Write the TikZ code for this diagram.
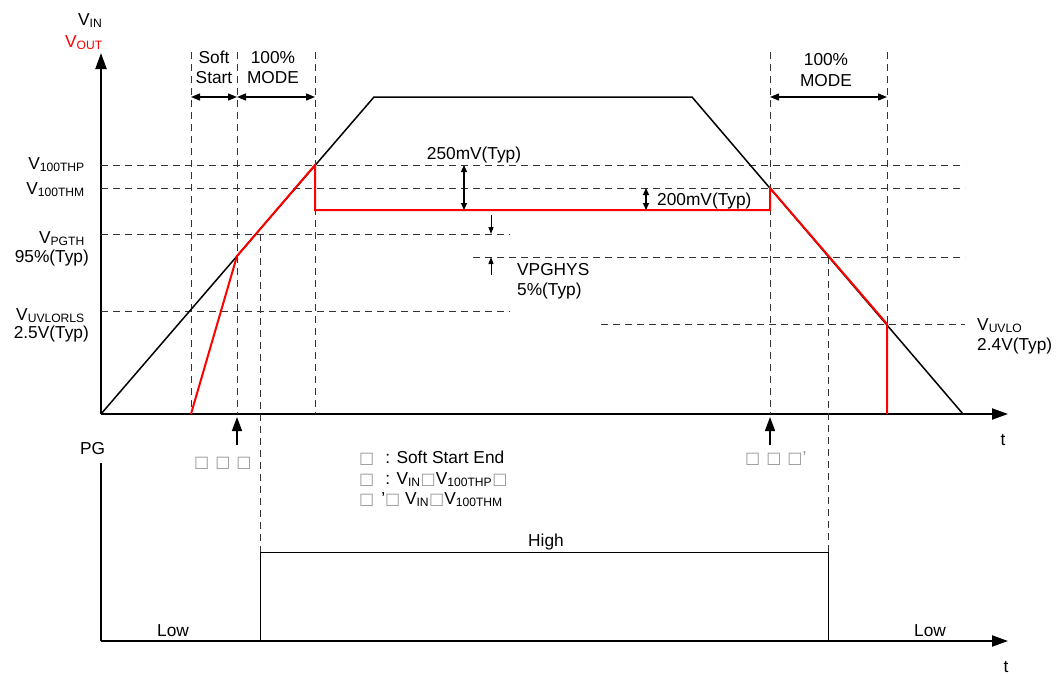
\documentclass[tikz,border=0pt]{standalone}
\usepackage{fontspec}
\setmainfont{Liberation Sans}
\newfontfamily\symfont{DejaVu Sans}
\usetikzlibrary{arrows.meta,positioning}
\definecolor{vred}{RGB}{255,0,0}
\definecolor{tofugray}{RGB}{150,150,150}
\newcommand{\tofu}{{\symfont\fontsize{16}{16}\selectfont\textcolor{tofugray}{□}}}

\tikzset{
  lbl/.style={inner sep=0pt, font=\fontsize{17.3}{20}\selectfont},
  axis/.style={line width=2pt, -{Triangle[length=16pt,width=11pt]}},
  guide/.style={dash pattern=on 7pt off 5pt, line width=1pt, black!80},
  vin/.style={line width=1.5pt},
  vout/.style={line width=2pt, vred},
  span/.style={line width=1.3pt, {Triangle[length=9pt,width=7pt]}-{Triangle[length=9pt,width=7pt]}},
  sspan/.style={line width=1.3pt, {Triangle[length=7pt,width=6pt]}-{Triangle[length=7pt,width=6pt]}},
  tick/.style={line width=1pt, -{Triangle[length=7pt,width=5pt]}},
  pointer/.style={line width=1.5pt, -{Triangle[length=14pt,width=10pt]}},
}

\begin{document}
\begin{tikzpicture}[x=1pt,y=-1pt]
\useasboundingbox (0,0) rectangle (1057,675);

% axes
\coordinate (o) at (101,414);
\coordinate (ytop) at (101,53);
\coordinate (xend) at (1008,414);
\coordinate (po) at (101,641);
\coordinate (ptop) at (101,463);
\coordinate (pend) at (1008,641);
\draw[axis] (o) -- (ytop);
\draw[axis] (o) -- (xend);
\draw[line width=2pt] (po) -- (ptop);
\draw[axis] (po) -- (pend);

% threshold lines
\draw[guide] (101,165) -- (965,165);
\draw[guide] (101,188) -- (965,188);
\draw[guide] (101,234) -- (510,234);
\draw[guide] (473,257) -- (965,257);
\draw[guide] (101,311) -- (510,311);
\draw[guide] (601,324) -- (965,324);

% time marks
\foreach \x in {191,237,315,770,887}
  \draw[guide] (\x,52) -- (\x,414);
\draw[guide] (260,234) -- (260,552);
\draw[guide] (828,257) -- (828,552);

% VIN
\coordinate (rise) at (374,97);
\coordinate (fall) at (692,97);
\coordinate (off) at (963,414);
\draw[vin] (o) -- (rise) -- (fall) -- (off);

% VOUT
\coordinate (ss0) at (191,414);
\coordinate (ss1) at (237,256);
\coordinate (thp) at (315,165);
\coordinate (reg0) at (315,210);
\coordinate (reg1) at (770,210);
\coordinate (thm) at (770,188);
\coordinate (uvlo) at (887,324);
\coordinate (uvlo0) at (887,414);
\draw[vout] (ss0) -- (ss1) -- (thp) -- (reg0) -- (reg1) -- (thm) -- (uvlo) -- (uvlo0);

% spans
\draw[span] (191,97) -- (237,97);
\draw[span] (237,97) -- (315,97);
\draw[span] (770,97) -- (887,97);
\draw[sspan] (464,165) -- (464,210);
\draw[sspan] (646,188) -- (646,210);
\draw[tick] (491,215) -- (491,234);
\draw[tick] (491,275) -- (491,257);
\draw[pointer] (237,445) -- (237,417);
\draw[pointer] (770,445) -- (770,417);

% PG
\draw[line width=1pt] (260,641) -- (260,552) -- (828,552) -- (828,641);

% labels
\node[lbl, anchor=base west] (vinl) at (78,25) {V\textsubscript{IN}};
\node[lbl, anchor=base west, text=vred] (voutl) at (65,47) {V\textsubscript{OUT}};
\node[lbl, anchor=base east] (thpl) at (85,169) {V\textsubscript{100THP}};
\node[lbl, anchor=base east] (thml) at (85,194) {V\textsubscript{100THM}};
\node[lbl, anchor=base east] (pgthl) at (85,243) {V\textsubscript{PGTH}};
\node[lbl, anchor=base east] (pgthv) at (89,262) {95\%(Typ)};
\node[lbl, anchor=base east] (rlsl) at (85,320) {V\textsubscript{UVLORLS}};
\node[lbl, anchor=base east] (rlsv) at (89,338) {2.5V(Typ)};
\node[lbl, anchor=base west] (uvlol) at (977,330) {V\textsubscript{UVLO}};
\node[lbl, anchor=base west] (uvlov) at (977,350) {2.4V(Typ)};
\node[lbl, anchor=base] (softl) at (214,63) {Soft};
\node[lbl, anchor=base] (startl) at (214,83) {Start};
\node[lbl, anchor=base] (modea) at (273,63) {100\%};
\node[lbl, anchor=base] (modeb) at (273,83) {MODE};
\node[lbl, anchor=base] (modec) at (826,65) {100\%};
\node[lbl, anchor=base] (moded) at (826,86) {MODE};
\node[lbl, anchor=base] (thpv) at (474,159) {250mV(Typ)};
\node[lbl, anchor=base west] (thmv) at (657,205) {200mV(Typ)};
\node[lbl, anchor=base west] (hysl) at (517,275) {VPGHYS};
\node[lbl, anchor=base west] (hysv) at (517,295) {5\%(Typ)};
\node[lbl, anchor=base] (tup) at (1003,445) {t};
\node[lbl, anchor=base] (tlow) at (1006,672) {t};
\node[lbl, anchor=base west] (pgl) at (80,454) {PG};
\node[lbl, anchor=base] (highl) at (546,546) {High};
\node[lbl, anchor=base] (lowa) at (173,636) {Low};
\node[lbl, anchor=base] (lowb) at (930,636) {Low};
\node[lbl, anchor=base west] (marka) at (194,467) {\tofu\hspace{6pt}\tofu\hspace{6pt}\tofu};
\node[lbl, anchor=base west] (markb) at (745,463) {\tofu\hspace{6pt}\tofu\hspace{6pt}\tofu\textcolor{tofugray}{'}};
\node[lbl, anchor=base west] (lega) at (359,463) {\tofu\hspace{11pt}: Soft Start End};
\node[lbl, anchor=base west] (legb) at (359,484) {\tofu\hspace{11pt}: V\textsubscript{IN}\tofu V\textsubscript{100THP}\tofu};
\node[lbl, anchor=base west] (legc) at (359,504) {\tofu\hspace{7pt}'\tofu\ V\textsubscript{IN}\tofu V\textsubscript{100THM}};

\end{tikzpicture}
\end{document}
